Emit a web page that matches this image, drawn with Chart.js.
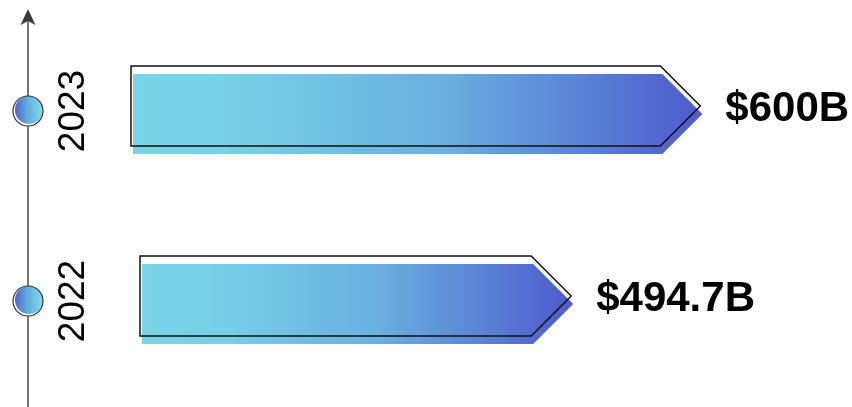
<!DOCTYPE html>
<html>
<head>
<meta charset="utf-8">
<script src="https://cdn.jsdelivr.net/npm/chart.js@4"></script>
<style>
  html, body { margin: 0; padding: 0; background: #ffffff; }
  #wrap { width: 852px; height: 407px; position: relative; }
</style>
</head>
<body>
<div id="wrap"><canvas id="c"></canvas></div>
<script>
// ---- data ----
const categories = ['2023', '2022'];
const marketValues = [600, 494.7];
const valueLabels = ['$600B', '$494.7B'];

// ---- style constants ----
const barInset = [1, 10];          // visual left inset of each arrow
const colorStart = '#7bd5e9';
const colorEnd = '#4d5acd';

const arrowPlugin = {
  id: 'arrowBars',
  afterDatasetsDraw(chart) {
    const ctx = chart.ctx;
    const meta = chart.getDatasetMeta(0);
    const area = chart.chartArea;
    const yScale = chart.scales.y;

    // timeline axis
    const lx = 28;
    ctx.save();
    ctx.strokeStyle = '#4a4a4a';
    ctx.lineWidth = 1.5;
    ctx.beginPath();
    ctx.moveTo(lx, 20);
    ctx.lineTo(lx, 407);
    ctx.stroke();
    ctx.fillStyle = '#3a3a3a';
    ctx.beginPath();
    ctx.moveTo(lx, 9);
    ctx.lineTo(lx + 7.5, 25);
    ctx.lineTo(lx, 21);
    ctx.lineTo(lx - 7.5, 25);
    ctx.closePath();
    ctx.fill();
    ctx.restore();

    meta.data.forEach((el, i) => {
      const props = el.getProps(['x', 'y', 'base', 'height'], true);
      const h = 80;
      const left = Math.max(props.base, area.left) + barInset[i];
      const tip = props.x;
      const cy = props.y;
      const half = h / 2;

      // gradient fill (shifted down)
      const fy = cy + 4;
      const g = ctx.createLinearGradient(left, 0, tip, 0);
      g.addColorStop(0, colorStart);
      g.addColorStop(0.15, '#78d2e8');
      g.addColorStop(0.55, '#6aafdf');
      g.addColorStop(1, colorEnd);
      ctx.save();
      ctx.fillStyle = g;
      ctx.beginPath();
      ctx.moveTo(left, fy - half);
      ctx.lineTo(tip - half, fy - half);
      ctx.lineTo(tip, fy);
      ctx.lineTo(tip - half, fy + half);
      ctx.lineTo(left, fy + half);
      ctx.closePath();
      ctx.fill();

      // outline (shifted up-left)
      const ox = -2, oy = cy - 4;
      ctx.strokeStyle = '#111111';
      ctx.lineWidth = 1.5;
      ctx.beginPath();
      ctx.moveTo(left + ox, oy - half);
      ctx.lineTo(tip + ox - half, oy - half);
      ctx.lineTo(tip + ox, oy);
      ctx.lineTo(tip + ox - half, oy + half);
      ctx.lineTo(left + ox, oy + half);
      ctx.closePath();
      ctx.stroke();

      // value label
      ctx.fillStyle = '#000000';
      ctx.font = 'bold 42px "Liberation Sans", Arial, sans-serif';
      ctx.textAlign = 'left';
      ctx.textBaseline = 'middle';
      ctx.fillText(valueLabels[i], tip + 23, cy - 1);
      ctx.restore();

      // year label (rotated)
      const ly = yScale.getPixelForValue(i);
      ctx.save();
      ctx.translate(74, ly + 1);
      ctx.rotate(-Math.PI / 2);
      ctx.fillStyle = '#000000';
      ctx.font = '37px "Liberation Sans", Arial, sans-serif';
      ctx.textAlign = 'center';
      ctx.textBaseline = 'middle';
      ctx.fillText(categories[i], 0, 0);
      ctx.restore();

      // timeline marker
      const r = 15;
      const mg = ctx.createLinearGradient(lx - r, 0, lx + r, 0);
      mg.addColorStop(0, '#4858cc');
      mg.addColorStop(0.5, '#66b0df');
      mg.addColorStop(1, '#82dcea');
      ctx.save();
      ctx.fillStyle = '#ffffff';
      ctx.beginPath();
      ctx.arc(lx, ly + 1, r, 0, Math.PI * 2);
      ctx.fill();
      ctx.fillStyle = mg;
      ctx.beginPath();
      ctx.arc(lx + 1, ly, r - 1, 0, Math.PI * 2);
      ctx.fill();
      ctx.strokeStyle = '#333333';
      ctx.lineWidth = 1.2;
      ctx.beginPath();
      ctx.arc(lx, ly + 1, r, 0, Math.PI * 2);
      ctx.stroke();
      ctx.restore();
    });
  }
};

new Chart(document.getElementById('c'), {
  type: 'bar',
  data: {
    labels: categories,
    datasets: [{
      data: marketValues,
      backgroundColor: 'rgba(0,0,0,0)',
      borderWidth: 0,
      barPercentage: 0.42,
      categoryPercentage: 1
    }]
  },
  options: {
    indexAxis: 'y',
    responsive: true,
    maintainAspectRatio: false,
    animation: false,
    layout: { padding: { left: 132, right: 27, top: 15, bottom: 12 } },
    plugins: { legend: { display: false }, tooltip: { enabled: false } },
    scales: {
      x: { display: false, min: 135, max: 700 },
      y: { display: false }
    }
  },
  plugins: [arrowPlugin]
});
</script>
</body>
</html>
